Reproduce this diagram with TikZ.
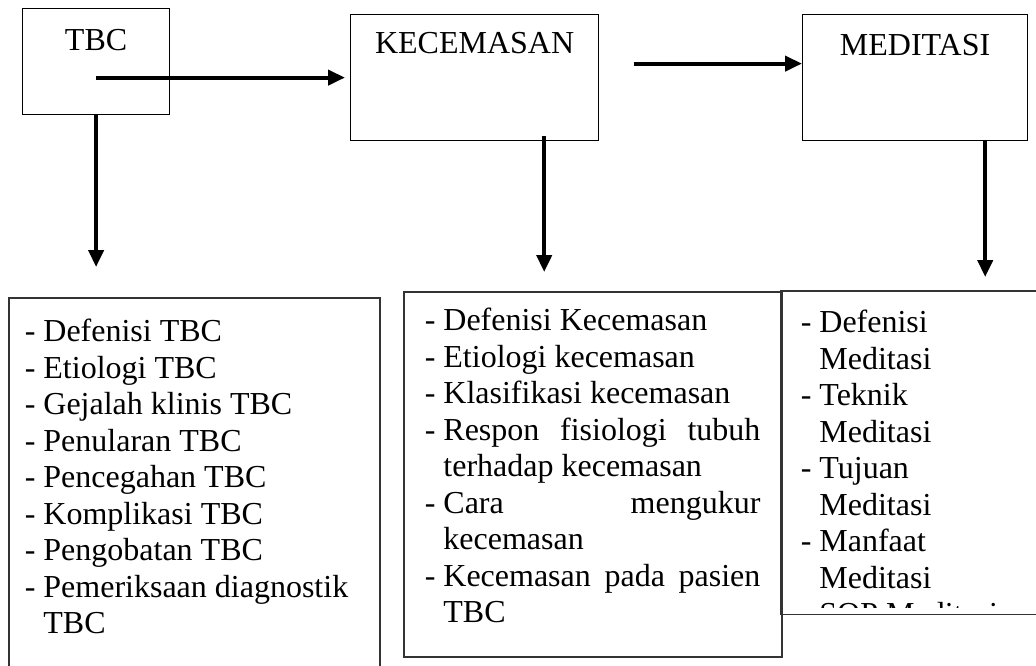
\documentclass[tikz,border=0pt]{standalone}
\usepackage{fontspec}
\setmainfont{Liberation Serif}
\usetikzlibrary{arrows.meta,calc}

\newcommand{\huruf}{\fontsize{16}{18.25}\selectfont}

\begin{document}
\begin{tikzpicture}[x=0.5pt,y=-0.5pt,
  judul/.style={draw, line width=0.6pt, inner sep=0pt, anchor=north west, font=\huruf},
  garis/.style={draw=black!80, line width=0.75pt},
  daftar/.style={garis, inner ysep=0pt, anchor=north west, font=\huruf},
  panah/.style={line width=2pt, -{Triangle[length=8.5pt,width=7.5pt]}}]

\useasboundingbox (0,0) rectangle (1036,665);
\clip (0,0) rectangle (1036,665);

%%%%%%%%%%%%%%%%%%%%%%%%%%%% kotak judul %%%%%%%%%%%%%%%%%%%%
\node[judul, minimum width=73.5pt, text height=21pt, text depth=32pt] (tbc) at (22,8) {TBC};
\node[judul, minimum width=124pt, text height=19.5pt, text depth=43.5pt] (kec) at (350,14) {KECEMASAN};
\node[judul, minimum width=112.5pt, text height=20.5pt, text depth=42.5pt] (med) at (802,14) {MEDITASI};

%%%%%%%%%%%%%%%%%%%%%%%%%%%% kotak isi %%%%%%%%%%%%%%%%%%%%
\node[daftar, inner xsep=8pt] (ltbc) at (8,297) {\parbox[t][201.5pt][t]{169.5pt}{\raggedright
\rule{0pt}{22pt}-~Defenisi TBC\\
-~Etiologi TBC\\
-~Gejalah klinis TBC\\
-~Penularan TBC\\
-~Pencegahan TBC\\
-~Komplikasi TBC\\
-~Pengobatan TBC\\
-~Pemeriksaan diagnostik\\
\hphantom{-~}TBC}};

\node[daftar, inner xsep=10.5pt] (lkec) at (403,291) {\parbox[t][182.5pt][t]{168pt}{\raggedright
\rule{0pt}{19.5pt}-~Defenisi Kecemasan\\
-~Etiologi kecemasan\\
-~Klasifikasi kecemasan\\
-~\makebox[158.5pt][s]{Respon fisiologi tubuh}\\
\hphantom{-~}terhadap kecemasan\\
-~\makebox[158.5pt][s]{Cara mengukur}\\
\hphantom{-~}kecemasan\\
-~\makebox[158.5pt][s]{Kecemasan pada pasien}\\
\hphantom{-~}TBC}};

% teks yang terpotong di bawah
\begin{scope}
\clip (779,289) rectangle (1036,607);
\node[daftar, draw=none, inner xsep=9.5pt] (lmed) at (781,291) {\parbox[t][161pt][t]{115.5pt}{\raggedright
\rule{0pt}{20.5pt}-~Defenisi\\
\hphantom{-~}Meditasi\\
-~Teknik\\
\hphantom{-~}Meditasi\\
-~Tujuan\\
\hphantom{-~}Meditasi\\
-~Manfaat\\
\hphantom{-~}Meditasi\\
-~SOP Meditasi}};
\end{scope}
\draw[garis] (lmed.north west) rectangle (lmed.south east);

%%%%%%%%%%%%%%%%%%%%%%%%%%%% panah %%%%%%%%%%%%%%%%%%%%
\draw[panah, shorten >=2.5pt] (tbc.center |- kec.west) -- (kec.west);
\coordinate (k2) at ($(kec.east)+(35,-14)$);
\draw[panah] (k2) -- (k2 -| med.west);

\draw[panah] (tbc.south) -- ($(tbc.south |- ltbc.north)+(0,-30)$);
\coordinate (k1) at ($(kec.south east)+(-55,-5)$);
\draw[panah] (k1) -- ($(k1 |- lkec.north)+(0,-19)$);
\coordinate (m1) at ($(med.south east)+(-43,0)$);
\draw[panah] (m1) -- ($(m1 |- lmed.north)+(0,-14)$);

\end{tikzpicture}
\end{document}
